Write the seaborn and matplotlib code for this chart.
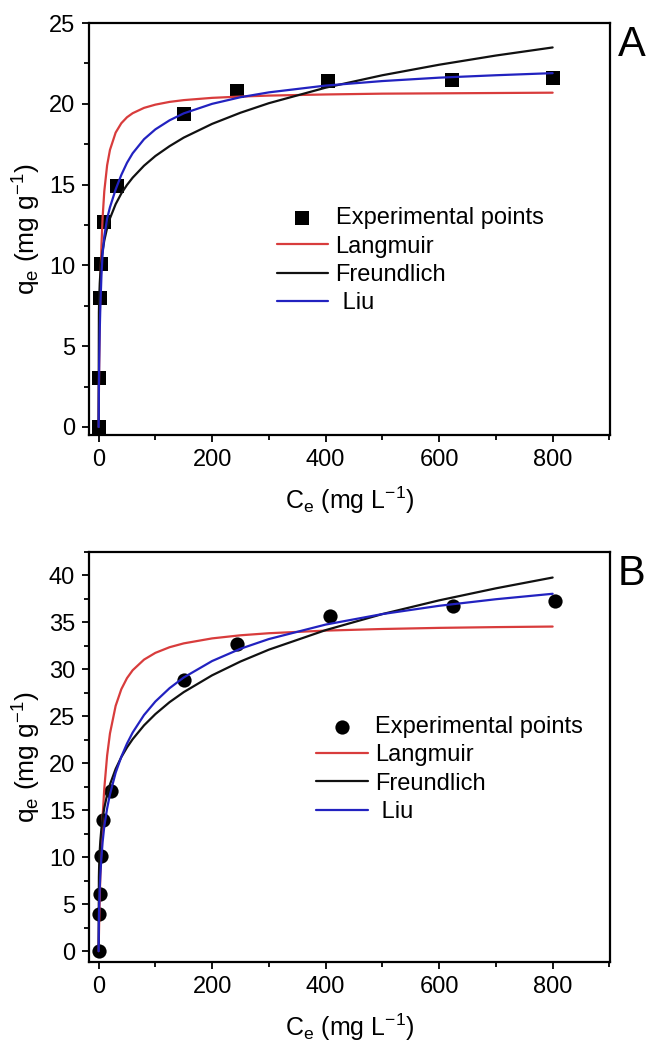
import pandas as pd
import matplotlib.pyplot as plt
import seaborn as sns
from matplotlib.ticker import MultipleLocator

# experimental points, panel A (squares)
ce_a = [0, 1, 2, 5, 9, 33, 150, 243, 405, 622, 800]
qe_a = [0, 3.0, 8.0, 10.1, 12.7, 14.9, 19.4, 20.8, 21.4, 21.5, 21.6]

# experimental points, panel B (circles)
ce_b = [0, 1, 2, 4, 8, 22, 150, 243, 407, 624, 804]
qe_b = [0, 4.0, 6.1, 10.1, 14.0, 17.0, 28.9, 32.7, 35.7, 36.8, 37.3]

# model curves at these Ce values
ce_fit = [0, 0.5, 1, 2, 3, 5, 7, 10, 15, 20, 30, 40, 50, 60, 80, 100,
          125, 150, 200, 250, 300, 400, 500, 600, 700, 800]

lang_a = [0, 2.19, 3.96, 6.65, 8.60, 11.24, 12.94, 14.59, 16.20, 17.15, 18.22,
          18.80, 19.17, 19.42, 19.75, 19.95, 20.12, 20.23, 20.37, 20.45, 20.51,
          20.58, 20.63, 20.65, 20.67, 20.69]
freu_a = [0, 7.10, 7.94, 8.89, 9.49, 10.31, 10.89, 11.54, 12.32, 12.91, 13.79,
          14.45, 14.98, 15.43, 16.17, 16.77, 17.38, 17.91, 18.76, 19.45, 20.04,
          21.00, 21.77, 22.42, 22.99, 23.49]
liu_a = [0, 2.6, 4.0, 6.0, 7.4, 9.4, 10.7, 11.8, 12.9, 13.6, 14.7,
         15.6, 16.35, 16.94, 17.81, 18.42, 18.98, 19.41, 20.00, 20.41, 20.71,
         21.13, 21.41, 21.62, 21.77, 21.90]

lang_b = [0, 1.63, 3.12, 5.74, 7.95, 11.51, 14.24, 17.32, 20.83, 23.18, 26.12,
          27.89, 29.07, 29.91, 31.04, 31.76, 32.36, 32.77, 33.30, 33.63, 33.85,
          34.13, 34.30, 34.42, 34.50, 34.56]
freu_b = [0, 7.92, 9.22, 10.73, 11.72, 13.11, 14.11, 15.26, 16.67, 17.75, 19.40,
          20.66, 21.69, 22.57, 24.04, 25.24, 26.51, 27.58, 29.37, 30.84, 32.10,
          34.18, 35.89, 37.35, 38.63, 39.78]
liu_b = [0, 3.5, 4.9, 6.8, 8.1, 10.0, 11.6, 13.3, 15.2, 16.7, 19.0,
         20.7, 22.1, 23.28, 25.14, 26.58, 28.00, 29.14, 30.89, 32.20, 33.23,
         34.77, 35.89, 36.77, 37.47, 38.05]

sns.set_style("ticks")
plt.rcParams['font.family'] = ['Liberation Sans', 'DejaVu Sans']
plt.rcParams['mathtext.default'] = 'regular'
plt.rcParams['text.color'] = 'black'
plt.rcParams['axes.labelcolor'] = 'black'
plt.rcParams['xtick.color'] = 'black'
plt.rcParams['ytick.color'] = 'black'

fig = plt.figure(figsize=(6.48, 10.48), dpi=100)
ax_a = fig.add_axes([0.1373, 0.5849, 0.8040, 0.3931])
ax_b = fig.add_axes([0.1373, 0.0821, 0.8040, 0.3912])


def panel(ax, ce, qe, marker, size, lang, freu, liu, ylim, letter, leg_xy):
    sns.scatterplot(x=ce, y=qe, ax=ax, marker=marker, s=size, color='black',
                    linewidth=0, label='Experimental points')
    sns.lineplot(x=ce_fit, y=lang, ax=ax, color='#d83c3c', linewidth=1.6,
                 sort=False, estimator=None, label='Langmuir')
    sns.lineplot(x=ce_fit, y=freu, ax=ax, color='#111111', linewidth=1.6,
                 sort=False, estimator=None, label='Freundlich')
    sns.lineplot(x=ce_fit, y=liu, ax=ax, color='#2222c0', linewidth=1.6,
                 sort=False, estimator=None, label=' Liu')

    ax.set_xlim(-17, 901)
    ax.set_ylim(*ylim)
    ax.xaxis.set_major_locator(MultipleLocator(200))
    ax.xaxis.set_minor_locator(MultipleLocator(100))
    ax.yaxis.set_major_locator(MultipleLocator(5))
    ax.yaxis.set_minor_locator(MultipleLocator(2.5))
    ax.tick_params(which='major', direction='out', length=5, width=1.3,
                   labelsize=17, pad=5)
    ax.tick_params(which='minor', direction='out', length=3.5, width=1.3)
    for sp in ax.spines.values():
        sp.set_linewidth(1.6)
        sp.set_color('black')

    ax.set_xlabel('C$_e$ (mg L$^{-1}$)', fontsize=18, labelpad=10)
    ax.set_ylabel('q$_e$ (mg g$^{-1}$)', fontsize=19, labelpad=4)

    ax.legend(loc='upper left', bbox_to_anchor=leg_xy, frameon=False,
              fontsize=17, borderpad=0, borderaxespad=0, handlelength=2.2,
              handletextpad=0.3, labelspacing=0.27)
    ax.text(1.015, 0.995, letter, transform=ax.transAxes, fontsize=30,
            ha='left', va='top')


panel(ax_a, ce_a, qe_a, 's', 90, lang_a, freu_a, liu_a, (-0.5, 25), 'A',
      (0.36, 0.553))
panel(ax_b, ce_b, qe_b, 'o', 105, lang_b, freu_b, liu_b, (-1.15, 42.5), 'B',
      (0.435, 0.60))

fig.savefig('out.png', dpi=100)
